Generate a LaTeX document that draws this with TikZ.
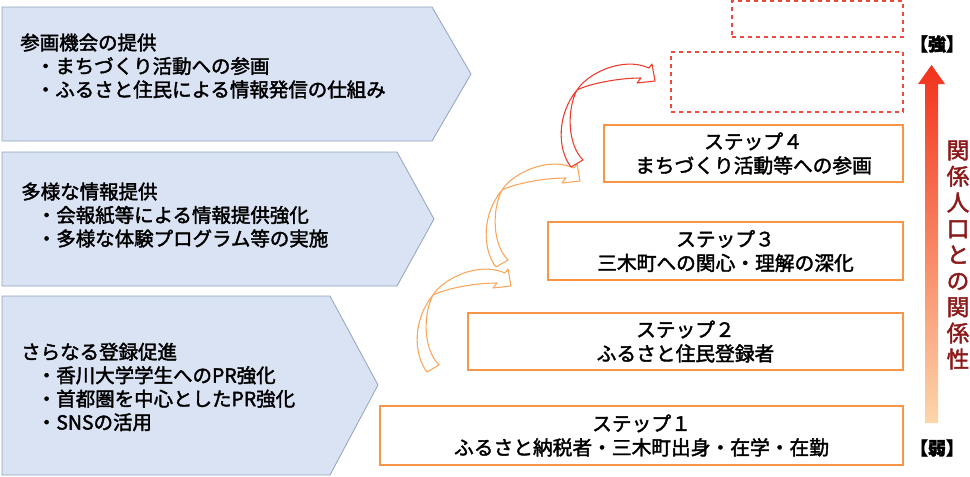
\documentclass[tikz,border=0pt]{standalone}
\usepackage{fontspec}
\setmainfont{Noto Sans CJK JP}[FakeBold=2]
\usetikzlibrary{fit}
\definecolor{chevfill}{HTML}{DAE3F3}
\definecolor{chevline}{HTML}{8FA3BF}
\definecolor{steporange}{HTML}{F79646}
\definecolor{curveorange}{HTML}{F9A65A}
\definecolor{curvered}{HTML}{EE3B2B}
\definecolor{dashred}{HTML}{EA4B3C}
\definecolor{labelred}{HTML}{8C1A1A}
\definecolor{gradtop}{HTML}{F2321C}
\definecolor{gradmid}{HTML}{F6A058}
\definecolor{gradbot}{HTML}{FDD6AA}

% hollow bent arrow, tail at #1
\newcommand{\bendarrow}[2]{%
  \draw[#2,line width=0.8pt,line join=round,shift={#1}]
    (-6,3) .. controls (-20,-15) and (-20,-50) .. (0,-74)
    .. controls (12,-80) and (40,-86) .. (64,-86) -- (60,-81) -- (78,-83)
    -- (75,-100) -- (72,-96) .. controls (45,-108) and (10,-90) .. (0,-74)
    .. controls (-10,-55) and (-10,-20) .. (6,-4) -- cycle;}

\begin{document}
\begin{tikzpicture}[
  x=0.75pt,y=-0.75pt,
  chevron/.style={draw=chevline,fill=chevfill,line width=0.6pt},
  chevtext/.style={anchor=west,align=left,inner sep=0pt,
                   font=\fontsize{14.6}{17.6}\selectfont},
  stepbox/.style={draw=steporange,line width=1.1pt,inner sep=0pt},
  dashbox/.style={draw=dashred,dashed,line width=0.8pt,inner sep=0pt},
  steptext/.style={align=center,inner sep=0pt,font=\fontsize{14.8}{18}\selectfont},
  endlabel/.style={inner sep=0pt,font=\fontsize{13.5}{15}\selectfont\bfseries}
]
\useasboundingbox (0,0) rectangle (970,476);

% measures on the left
\draw[chevron] (2,7) -- (432,7) -- (471,74) -- (432,141) -- (2,141) -- cycle;
\draw[chevron] (2,152) -- (397,152) -- (434,219) -- (397,286) -- (2,286) -- cycle;
\draw[chevron] (2,296) -- (330,296) -- (378,385) -- (330,475) -- (2,475) -- cycle;

\node[chevtext] (offer) at (20,66) {参画機会の提供\\
  \hspace{0.8em}・まちづくり活動への参画\\
  \hspace{0.8em}・ふるさと住民による情報発信の仕組み};
\node[chevtext] (inform) at (21,215) {多様な情報提供\\
  \hspace{0.8em}・会報紙等による情報提供強化\\
  \hspace{0.8em}・多様な体験プログラム等の実施};
\node[chevtext] (register) at (21,387) {さらなる登録促進\\
  \hspace{0.8em}・香川大学学生へのPR強化\\
  \hspace{0.8em}・首都圏を中心としたPR強化\\
  \hspace{0.8em}・SNSの活用};

% steps
\node[stepbox,fit={(380,406) (903,465)}] (step1) {};
\node[stepbox,fit={(468,313) (903,370)}] (step2) {};
\node[stepbox,fit={(548,222) (903,280)}] (step3) {};
\node[stepbox,fit={(604,125) (903,182)}] (step4) {};
\node[dashbox,fit={(671,52) (903,112)}] (next1) {};
\node[dashbox,fit={(732,1) (903,37)}] (next2) {};

\node[steptext] (step1t) at (step1.center) {ステップ１\\ふるさと納税者・三木町出身・在学・在勤};
\node[steptext] (step2t) at (step2.center) {ステップ２\\ふるさと住民登録者};
\node[steptext] (step3t) at (step3.center) {ステップ３\\三木町への関心・理解の深化};
\node[steptext] (step4t) at (step4.center) {ステップ４\\まちづくり活動等への参画};

\coordinate (tailA) at (433,369);
\coordinate (tailB) at (502,264);
\coordinate (tailC) at (577,164);
\bendarrow{(tailA)}{curveorange}
\bendarrow{(tailB)}{curveorange}
\bendarrow{(tailC)}{curvered}

% strength scale
\shade[top color=gradtop,middle color=gradmid,bottom color=gradbot]
  (925,423) -- (925,84) -- (918,84) -- (931.5,65) -- (945,84) -- (938,84)
  -- (938,423) -- cycle;
\node[endlabel] (strong) at (937,44) {【強】};
\node[endlabel] (weak) at (937,448) {【弱】};
\node[align=center,inner sep=0pt,text=labelred,font=\fontsize{17}{19.6}\selectfont]
  (relation) at (958,255) {関\\係\\人\\口\\と\\の\\関\\係\\性};
\end{tikzpicture}
\end{document}
